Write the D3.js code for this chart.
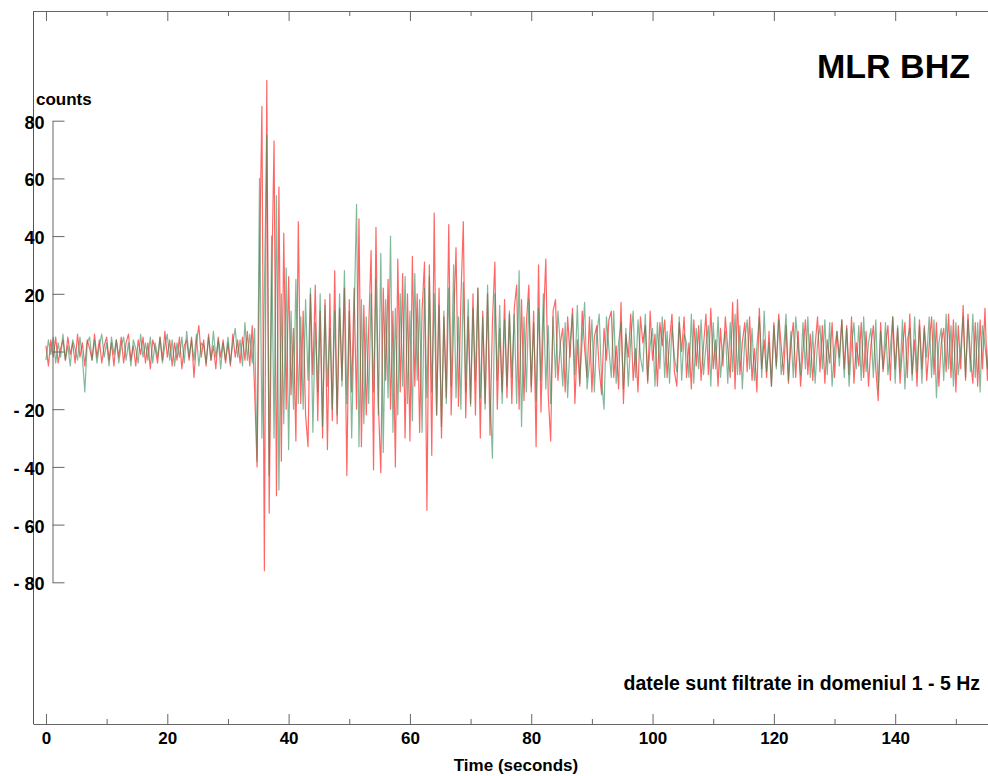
<!DOCTYPE html>
<html>
<head>
    <title>MLR BHZ</title>
    <style>
        body { margin: 0; background: #fff; }
        svg { display: block; }
        text { font-family: "Liberation Sans", Arial, sans-serif; font-weight: bold; fill: #000; }
        .trace { fill: none; stroke-width: 1.2px; stroke-linejoin: round; }
        .red { stroke: #ff0000; stroke-opacity: 0.6; }
        .green { stroke: #2e8b57; stroke-opacity: 0.6; }
        .axis path, .axis line { stroke: #666; }
    </style>
</head>
<body>
<div id="chart"></div>

<script src="https://d3js.org/d3.v7.min.js"></script>
<script>
    // sampling interval of the traces (seconds)
    const sampleInterval = 0.4;

    // red trace, counts (one row = 6 s)
    const redCounts = [
        2, -5, 4, -2, 5, -4, 1, 4, -3, 5, -1, 3, -4, 6, -2,
        3, -5, 4, 1, -3, 6, -2, 4, -4, 2, 5, -3, 3, -5, 4,
        -2, 5, -4, 3, 6, -3, 2, -5, 4, -1, 5, -4, 3, -6, 4,
        1, -4, 5, -3, 7, -2, 4, -5, 3, -3, 5, -6, 2, 4, -3,
        5, -9, 3, 9, -2, 4, -5, 6, -3, 2, -6, 5, -2, 4, -4,
        3, -5, 6, -2, 4, -4, 5, -3, 7, -5, 9, -14, -40, 30, 85,
        -76, 94, -56, 22, 73, -50, 57, -38, 41, -20, 26, -15, 8, -31, 45,
        -18, 14, -22, -33, 20, -8, 23, -24, 14, -30, 18, -34, 20, -24, 28,
        -25, 15, -10, 22, -43, 18, -14, 22, -20, 46, -33, 16, -22, 8, 35,
        -41, 43, -18, -42, 22, -10, 25, -20, 14, -40, 32, -14, 27, -30, 20,
        -31, 33, -12, 20, -28, 14, 31, -55, 30, -36, 48, -22, 22, -30, 12,
        -16, 44, -22, 10, 36, -19, 18, 45, -23, 12, -18, 20, -22, 22, -30,
        14, -18, 20, -29, 10, 31, -20, 8, -14, 18, -16, 13, -18, 15, 23,
        -20, 18, -17, 10, 23, -14, 14, -33, 30, -21, 10, 32, -15, -31, 14,
        18, -10, 3, 8, -14, 12, -2, 15, -18, 4, -12, 14, 1, -9, 12,
        -14, 5, 9, -6, -15, 8, -3, 11, 14, -9, 2, -13, 17, -18, 6,
        -2, 13, -10, 1, -14, 12, 3, 9, -11, 14, -3, 6, -12, 10, 2,
        11, -9, 4, 13, -7, -12, 10, 0, 12, -9, 3, -13, 11, -5, 9,
        -10, 2, 13, -8, 15, -6, 4, -12, 8, -5, 12, 1, -9, 17, -13,
        18, -8, 3, 10, -7, 12, -10, 1, -14, 15, -6, 4, -9, 7, -12,
        10, -5, 13, 2, -8, 9, -11, 3, 10, -9, 7, -12, 0, 11, -8,
        6, -10, 2, 12, -7, 9, -11, 4, -4, 10, -9, 7, -2, 11, -6,
        9, -8, 12, -11, 3, -5, 10, -9, 7, -12, 2, 9, -6, -17, 10,
        -7, 2, 9, -10, 12, -6, 8, -11, 1, 10, -9, 13, -8, 4, -12,
        11, -6, 9, -10, 2, 12, -8, 10, -12, 3, 8, -7, 13, -9, 11,
        -14, 9, -6, 16, -10, 13, -2, -11, 10, -12, 11, -6, 15, -10, 12
    ];

    // green trace, counts
    const greenCounts = [
        -3, 4, -1, 5, -4, 3, -2, 6, -3, 2, -5, 4, 1, -3, 5,
        -2, -14, 3, 5, -3, 4, -4, 2, 6, -2, 3, -5, 5, -1, 4,
        -4, 2, 5, -3, 3, -5, 4, 1, -4, 6, -2, 3, -3, 5, -4,
        3, -2, 5, -4, 2, 6, -3, 4, -5, 3, -2, 5, -4, 7, -2,
        4, -3, 6, -5, 3, 2, -4, 5, -3, 7, -2, 4, -6, 3, -3,
        5, -4, 3, 8, -2, 4, -5, 10, -3, 6, -4, 8, -38, 60, -30,
        20, 75, -43, 40, -30, 54, -48, 20, -25, 29, -34, 14, -20, 25, -18,
        12, -20, 18, -10, 22, -28, 10, -14, 20, -26, 16, -12, 8, -20, 14,
        -22, 20, -12, 28, -18, 14, -30, 12, 51, -33, 18, -25, 12, -18, 20,
        -14, 25, -22, 34, -35, 18, -16, 40, -28, 15, -22, 20, -12, 26, -18,
        14, -24, 27, -10, 18, -28, 22, -16, 26, -14, 20, -22, 16, -26, 14,
        -18, 22, -12, 30, -16, 12, -20, 24, -14, 18, -19, 15, -10, 22, -16,
        12, -20, 23, -14, -37, 20, -10, 16, -18, 11, -12, 14, -9, 13, -18,
        28, -26, 12, -14, 18, -12, 10, -17, 15, -10, 20, -13, 9, -18, 12,
        -9, 14, 2, -12, 10, -16, 3, 13, -8, 16, -11, 4, 17, -13, -4,
        11, -14, 6, 13, -10, -20, 12, 1, -9, 14, -11, 3, 10, -13, 8,
        -12, 4, 14, -9, 11, -2, -7, 13, -10, 2, 8, -12, 10, -6, 12,
        -9, 7, -11, 9, -2, -7, 12, -10, 6, 3, -9, 13, -11, 8, -6,
        11, -8, 2, 9, -12, 10, -6, 12, -9, 1, 7, -11, 10, -7, 13,
        -8, 9, -13, 4, 11, -6, 8, -10, 2, 12, -9, 14, -7, 3, -12,
        9, -6, 11, -8, 0, 13, -10, 7, -9, 12, 2, -8, 10, -6, 12,
        -9, 7, -11, 3, 9, -6, 11, -8, 10, -12, 1, 7, -5, 11, -9,
        8, -12, 2, 10, -6, 9, -10, 12, -7, 3, 8, -9, 11, -13, 7,
        -6, 10, -8, 1, 12, -11, 9, -7, 11, -13, 4, 8, -10, 12, -7,
        9, -11, 8, -2, 12, -9, 11, -16, 3, 8, -10, 13, -6, 9, -12,
        10, -8, 1, 12, -9, 11, -7, 13, -9, 10, -14, 9, 2, -6, 12
    ];

    const timeTicks = [0, 20, 40, 60, 80, 100, 120, 140];
    const timeMinorTicks = [10, 30, 50, 70, 90, 110, 130, 150];
    const countTicks = [-80, -60, -40, -20, 0, 20, 40, 60, 80];

    const width = 988;
    const height = 776;

    const svg = d3.select('#chart').append('svg')
        .attr('width', width)
        .attr('height', height);

    const frame = { left: 33, right: 988, top: 11, bottom: 724 };

    const x = d3.scaleLinear()
        .domain([-2.14, 155.3])
        .range([frame.left, frame.right]);

    const y = d3.scaleLinear()
        .domain([-80, 80])
        .range([582.3, 120.7]);

    svg.append('clipPath').attr('id', 'plotClip')
        .append('rect')
        .attr('x', frame.left)
        .attr('y', frame.top)
        .attr('width', frame.right - frame.left)
        .attr('height', frame.bottom - frame.top);

    const line = d3.line()
        .x((d, i) => x(i * sampleInterval))
        .y(d => y(d));

    const traces = svg.append('g').attr('clip-path', 'url(#plotClip)');

    traces.append('path')
        .datum(redCounts)
        .attr('class', 'trace red')
        .attr('d', line);

    traces.append('path')
        .datum(greenCounts)
        .attr('class', 'trace green')
        .attr('d', line);

    // left frame line (behind the labels)
    svg.append('line')
        .attr('x1', frame.left + 0.5).attr('x2', frame.left + 0.5)
        .attr('y1', frame.top).attr('y2', frame.bottom)
        .attr('stroke', '#555');

    // bottom time axis, ticks pointing inwards
    svg.append('g')
        .attr('class', 'axis')
        .attr('transform', `translate(0,${frame.bottom})`)
        .call(d3.axisBottom(x).tickValues(timeTicks).tickSizeInner(-10).tickSizeOuter(0).tickPadding(8))
        .call(g => g.selectAll('text').style('font-size', '17px').attr('font-family', null));

    svg.append('g')
        .attr('class', 'axis')
        .attr('transform', `translate(0,${frame.bottom})`)
        .call(d3.axisBottom(x).tickValues(timeMinorTicks).tickSizeInner(-5).tickSizeOuter(0).tickFormat(''))
        .call(g => g.select('.domain').remove());

    // top frame line with ticks
    svg.append('g')
        .attr('class', 'axis')
        .attr('transform', `translate(0,${frame.top})`)
        .call(d3.axisTop(x).tickValues(timeTicks).tickSizeInner(-10).tickSizeOuter(0).tickFormat(''));

    svg.append('g')
        .attr('class', 'axis')
        .attr('transform', `translate(0,${frame.top})`)
        .call(d3.axisTop(x).tickValues(timeMinorTicks).tickSizeInner(-5).tickSizeOuter(0).tickFormat(''))
        .call(g => g.select('.domain').remove());

    // counts axis
    svg.append('g')
        .attr('class', 'axis')
        .attr('transform', 'translate(52.5,0)')
        .call(d3.axisLeft(y).tickValues(countTicks).tickSizeInner(-12).tickSizeOuter(0).tickPadding(8)
            .tickFormat(d => d === 0 ? '' : (d < 0 ? '- ' + Math.abs(d) : String(d))))
        .call(g => g.selectAll('text').style('font-size', '18px').attr('font-family', null).attr('dy', '0.42em'));

    svg.append('text')
        .attr('x', 36)
        .attr('y', 105)
        .style('font-size', '17px')
        .text('counts');

    svg.append('text')
        .attr('x', 970)
        .attr('y', 78)
        .attr('text-anchor', 'end')
        .style('font-size', '34px')
        .text('MLR BHZ');

    svg.append('text')
        .attr('x', 980)
        .attr('y', 690)
        .attr('text-anchor', 'end')
        .style('font-size', '19.5px')
        .text('datele sunt filtrate in domeniul 1 - 5 Hz');

    svg.append('text')
        .attr('x', 516)
        .attr('y', 771)
        .attr('text-anchor', 'middle')
        .style('font-size', '17px')
        .text('Time (seconds)');
</script>
</body>
</html>
